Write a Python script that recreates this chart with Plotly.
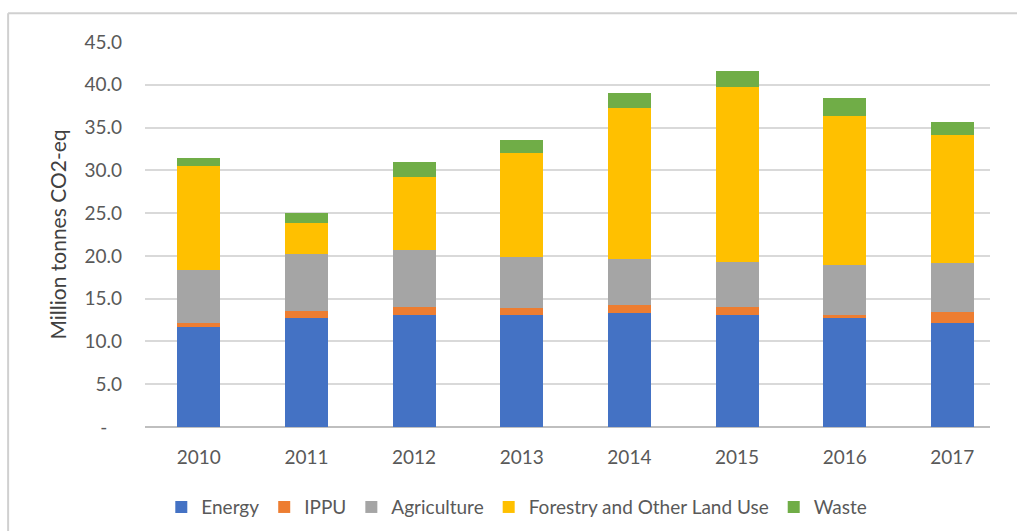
import plotly.graph_objects as go

# Emissions by sector, million tonnes CO2-eq
years = ["2010", "2011", "2012", "2013", "2014", "2015", "2016", "2017"]
energy = [11.7, 12.7, 13.1, 13.1, 13.3, 13.1, 12.7, 12.2]
ippu = [0.5, 0.9, 0.9, 0.8, 1.0, 0.9, 0.4, 1.3]
agriculture = [6.2, 6.6, 6.7, 6.0, 5.3, 5.3, 5.8, 5.7]
folu = [12.1, 3.6, 8.5, 12.1, 17.7, 20.4, 17.5, 14.9]
waste = [1.0, 1.2, 1.8, 1.5, 1.7, 1.9, 2.1, 1.6]

series = [
    ("Energy", energy, "#4472C4"),
    ("IPPU", ippu, "#ED7D31"),
    ("Agriculture", agriculture, "#A5A5A5"),
    ("Forestry and Other Land Use", folu, "#FFC000"),
    ("Waste", waste, "#70AD47"),
]

y_ticks = [0, 5, 10, 15, 20, 25, 30, 35, 40, 45]
# zero shown as an accounting-style dash, padded from the right
y_ticktext = ["-\u00a0\u00a0\u00a0"] + [f"{v:.1f}" for v in y_ticks[1:]]

FONT = "Lato"
GREY = "#595959"

fig = go.Figure()
for name, vals, color in series:
    fig.add_trace(go.Bar(
        x=list(range(len(years))), y=vals, name=name,
        marker=dict(color=color, line=dict(width=0)),
    ))

fig.update_layout(
    width=1017, height=531,
    barmode="stack", bargap=0.6,
    paper_bgcolor="white", plot_bgcolor="white",
    margin=dict(l=145, r=27, t=42, b=104, autoexpand=False),
    font=dict(family=FONT, color=GREY, size=18),
    showlegend=True,
    legend=dict(
        orientation="h", x=0.44, xanchor="center",
        yref="container", y=0.045, yanchor="middle",
        font=dict(family=FONT, size=19, color=GREY),
        itemwidth=30, traceorder="normal",
    ),
    xaxis=dict(
        range=[-0.5, 7.35], tickmode="array",
        tickvals=list(range(len(years))), ticktext=years,
        showgrid=False, zeroline=False, showline=False,
        ticks="", ticklabelstandoff=17, automargin=False,
        tickfont=dict(family=FONT, size=19, color=GREY),
    ),
    yaxis=dict(
        range=[0, 45], tickmode="array", tickvals=y_ticks, ticktext=y_ticktext,
        showgrid=True, gridcolor="#D9D9D9", gridwidth=1.5,
        zeroline=True, zerolinecolor="#BFBFBF", zerolinewidth=1.5,
        showline=False, ticks="", ticklabelstandoff=22, automargin=False,
        tickfont=dict(family=FONT, size=19, color=GREY),
        title=dict(text="Million tonnes CO2-eq", standoff=12,
                   font=dict(family=FONT, size=21, color="#404040")),
    ),
)

# Frame around the chart
fig.add_shape(type="line", xref="paper", yref="paper",
              x0=-0.162, x1=1.04, y0=1.075, y1=1.075,
              line=dict(color="#D0D0D0", width=2))
fig.add_shape(type="line", xref="paper", yref="paper",
              x0=-0.162, x1=-0.162, y0=1.075, y1=-0.3,
              line=dict(color="#D0D0D0", width=2))

fig.write_html("out.html")
